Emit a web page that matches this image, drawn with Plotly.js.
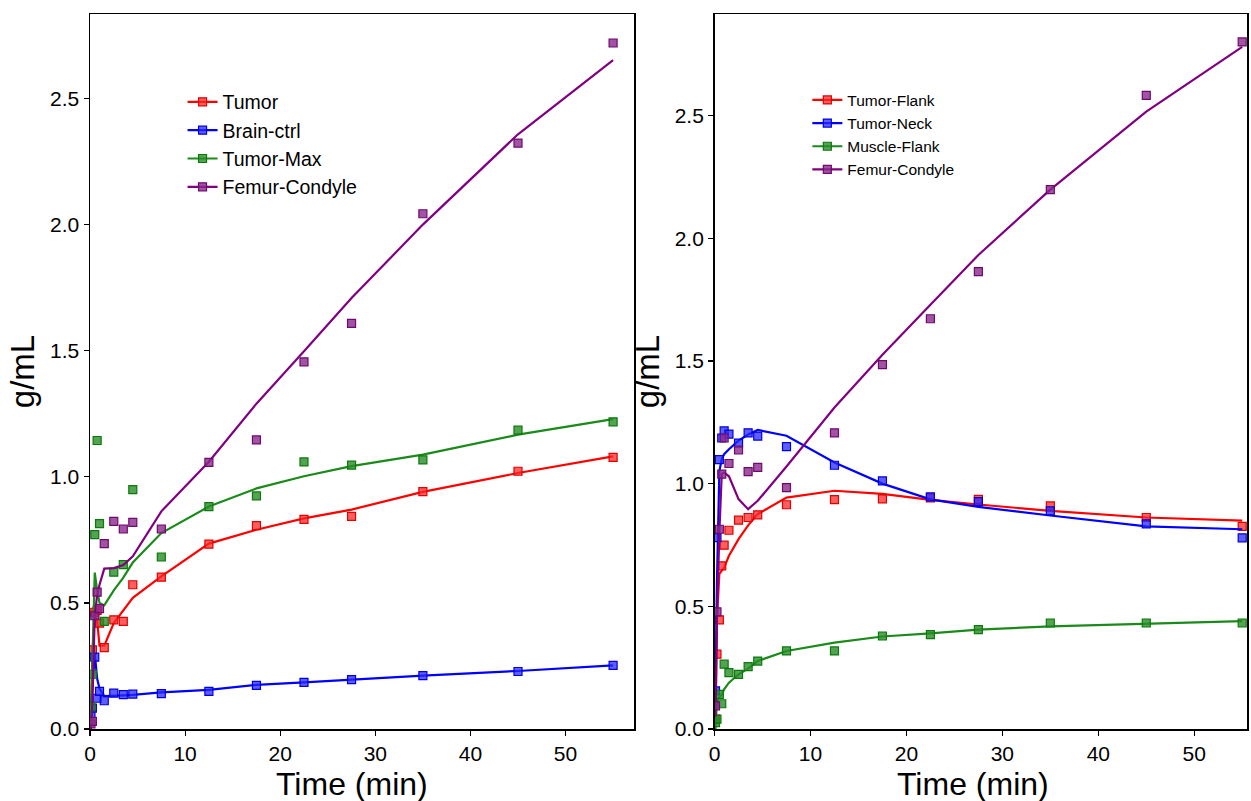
<!DOCTYPE html>
<html>
<head>
<meta charset="utf-8">
<script src="https://cdn.plot.ly/plotly-3.0.1.min.js"></script>
<style>html,body{margin:0;padding:0;background:#fff;}#chart{width:1251px;height:801px;}</style>
</head>
<body>
<div id="chart"></div>
<script>
// Time points (min)
const times = [0.1, 0.25, 0.5, 0.75, 1, 1.5, 2.5, 3.5, 4.5, 7.5, 12.5, 17.5, 22.5, 27.5, 35, 45, 55];

// Left panel: measured values (g/mL)
const leftNames = ["Tumor", "Brain-ctrl", "Tumor-Max", "Femur-Condyle"];
const leftTumorPts   = [null, 0.314, 0.463, 0.47, 0.42, 0.323, 0.433, 0.427, 0.572, 0.602, 0.733, 0.806, 0.831, 0.843, 0.941, 1.022, 1.077];
const leftBrainPts   = [0.06, 0.083, 0.285, 0.122, 0.149, 0.112, 0.142, 0.136, 0.138, 0.14, 0.149, 0.173, 0.185, 0.196, 0.212, 0.228, 0.252];
const leftMaxPts     = [0.089, 0.217, 0.771, 1.144, 0.814, 0.427, 0.622, 0.652, 0.949, 0.682, 0.882, 0.924, 1.059, 1.046, 1.067, 1.185, 1.218];
const leftFemurPts   = [0.02, 0.03, 0.449, 0.543, 0.477, 0.735, 0.823, 0.793, 0.819, 0.793, 1.057, 1.146, 1.456, 1.608, 2.043, 2.323, 2.72];
// Left panel: fitted curves
const leftTumorFit   = [0.05, 0.30, 0.45, 0.43, 0.33, 0.33, 0.42, 0.47, 0.52, 0.605, 0.735, 0.79, 0.835, 0.87, 0.94, 1.015, 1.081];
const leftBrainFit   = [0.08, 0.15, 0.30, 0.20, 0.16, 0.13, 0.13, 0.133, 0.135, 0.145, 0.155, 0.175, 0.185, 0.196, 0.212, 0.23, 0.252];
const leftMaxFit     = [0.05, 0.25, 0.62, 0.55, 0.50, 0.49, 0.55, 0.60, 0.66, 0.777, 0.882, 0.954, 1.002, 1.042, 1.088, 1.167, 1.229];
const leftFemurFit   = [0.0, 0.1, 0.45, 0.53, 0.572, 0.636, 0.638, 0.65, 0.685, 0.863, 1.06, 1.29, 1.498, 1.709, 2.0, 2.358, 2.652];

// Right panel: measured values (g/mL)
const rightNames = ["Tumor-Flank", "Tumor-Neck", "Muscle-Flank", "Femur-Condyle"];
const rightFlankPts  = [0.04, 0.305, 0.445, 0.665, 0.749, 0.81, 0.851, 0.862, 0.873, 0.914, 0.935, 0.938, 0.942, 0.936, 0.909, 0.862, 0.826];
const rightNeckPts   = [0.155, 0.78, 1.098, 1.186, 1.215, 1.202, 1.165, 1.207, 1.194, 1.151, 1.075, 1.011, 0.946, 0.927, 0.889, 0.836, 0.779];
const rightMusclePts = [0.026, 0.04, 0.141, 0.103, 0.264, 0.23, 0.223, 0.254, 0.277, 0.318, 0.318, 0.379, 0.385, 0.405, 0.432, 0.432, 0.432];
const rightFemurPts  = [0.094, 0.477, 0.814, 1.039, 1.186, 1.082, 1.137, 1.049, 1.066, 0.984, 1.207, 1.485, 1.672, 1.864, 2.198, 2.582, 2.80];
// Right panel: fitted curves
const rightFlankFit  = [0.02, 0.45, 0.632, 0.645, 0.658, 0.706, 0.774, 0.83, 0.876, 0.943, 0.971, 0.958, 0.934, 0.915, 0.889, 0.862, 0.849];
const rightNeckFit   = [0.15, 0.6, 1.05, 1.1, 1.12, 1.14, 1.175, 1.2, 1.219, 1.195, 1.086, 1.0, 0.936, 0.905, 0.87, 0.826, 0.814];
const rightMuscleFit = [0.0, 0.12, 0.13, 0.14, 0.162, 0.189, 0.223, 0.246, 0.277, 0.318, 0.352, 0.377, 0.39, 0.405, 0.418, 0.43, 0.44];
const rightFemurFit  = [0.05, 0.45, 0.8, 1.04, 1.045, 1.03, 0.937, 0.896, 0.93, 1.07, 1.31, 1.525, 1.729, 1.932, 2.198, 2.516, 2.78];

const xTitleText = "Time (min)";
const yTitleText = "g/mL";

const lineColors = ["#ff0000", "#0000ff", "#1a8a1a", "#800080"];
const fillColors = ["rgba(255,40,40,0.75)", "rgba(40,40,255,0.75)", "rgba(40,140,40,0.8)", "rgba(140,40,140,0.8)"];
const edgeColors = ["#e00000", "#0000dd", "#0b7a0b", "#6e0a6e"];

function panelTraces(names, pts, fits, xa, ya, legendId) {
  const out = [];
  for (let i = 0; i < names.length; i++) {
    out.push({
      type: 'scatter', mode: 'lines', x: times, y: fits[i], xaxis: xa, yaxis: ya,
      line: {color: lineColors[i], width: 2.2}, showlegend: false, hoverinfo: 'skip'
    });
    out.push({
      type: 'scatter', mode: 'markers', x: times, y: pts[i], xaxis: xa, yaxis: ya,
      marker: {symbol: 'square', size: 8, color: fillColors[i], line: {color: edgeColors[i], width: 1.2}},
      showlegend: false
    });
  }
  for (let i = 0; i < names.length; i++) {
    out.push({
      type: 'scatter', mode: 'lines+markers', x: [null], y: [null], xaxis: xa, yaxis: ya,
      name: names[i], legend: legendId,
      line: {color: lineColors[i], width: 2.2},
      marker: {symbol: 'square', size: 8, color: fillColors[i], line: {color: edgeColors[i], width: 1.2}}
    });
  }
  return out;
}

const data = [].concat(
  panelTraces(leftNames, [leftTumorPts, leftBrainPts, leftMaxPts, leftFemurPts],
              [leftTumorFit, leftBrainFit, leftMaxFit, leftFemurFit], 'x', 'y', 'legend'),
  panelTraces(rightNames, [rightFlankPts, rightNeckPts, rightMusclePts, rightFemurPts],
              [rightFlankFit, rightNeckFit, rightMuscleFit, rightFemurFit], 'x2', 'y2', 'legend2')
);

const FONT = "Liberation Sans, Arial, sans-serif";
const axisCommon = {
  showgrid: false, zeroline: false, showline: true, linecolor: '#000', linewidth: 1.5,
  mirror: true, ticks: 'outside', ticklen: 5, tickwidth: 1.2, tickcolor: '#000',
  tickfont: {family: FONT, size: 21, color: '#000'}
};
const yTitle = {text: yTitleText, font: {family: FONT, size: 33, color: '#000'}, standoff: 5};

const layout = {
  width: 1251, height: 801,
  paper_bgcolor: '#fff', plot_bgcolor: '#fff',
  margin: {l: 90, r: 4, t: 14, b: 72},
  font: {family: FONT, color: '#000'},
  xaxis: Object.assign({}, axisCommon, {domain: [0, 0.4702], range: [0, 57.2], dtick: 10, tick0: 0, anchor: 'y'}),
  yaxis: Object.assign({}, axisCommon, {range: [0, 2.835], dtick: 0.5, tick0: 0, tickformat: '.1f', title: yTitle, anchor: 'x'}),
  xaxis2: Object.assign({}, axisCommon, {domain: [0.5398, 1.0], range: [0, 55.5], dtick: 10, tick0: 0, anchor: 'y2'}),
  yaxis2: Object.assign({}, axisCommon, {range: [0, 2.914], dtick: 0.5, tick0: 0, tickformat: '.1f', title: yTitle, anchor: 'x2'}),
  annotations: [
    {text: xTitleText, xref: 'paper', yref: 'paper', x: 0.2264, y: -0.0765, xanchor: 'center', yanchor: 'middle',
     showarrow: false, font: {family: FONT, size: 32, color: '#000'}},
    {text: xTitleText, xref: 'paper', yref: 'paper', x: 0.7632, y: -0.0765, xanchor: 'center', yanchor: 'middle',
     showarrow: false, font: {family: FONT, size: 32, color: '#000'}}
  ],
  legend: {x: 0.08, y: 0.904, xanchor: 'left', yanchor: 'top', bgcolor: 'rgba(0,0,0,0)',
           font: {family: FONT, size: 19.5, color: '#000'}, itemwidth: 30, tracegroupgap: 0},
  legend2: {x: 0.62, y: 0.903, xanchor: 'left', yanchor: 'top', bgcolor: 'rgba(0,0,0,0)',
            font: {family: FONT, size: 15.5, color: '#000'}, itemwidth: 30, tracegroupgap: 0},
  showlegend: true
};

Plotly.newPlot('chart', data, layout, {displayModeBar: false, staticPlot: true});
</script>
</body>
</html>
